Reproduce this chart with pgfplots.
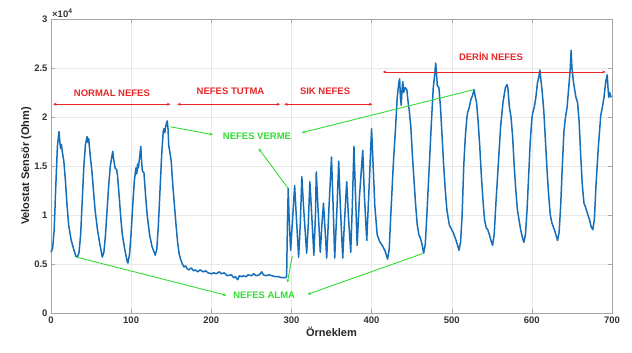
\documentclass[border=0pt]{standalone}
\usepackage{pgfplots}
\pgfplotsset{compat=1.18}
\usepackage{fontspec}
\setmainfont{Liberation Sans}
\usetikzlibrary{arrows.meta}
\definecolor{mblue}{RGB}{20,110,185}
\definecolor{ared}{RGB}{230,40,40}
\definecolor{agreen}{RGB}{50,220,50}
\begin{document}
\begin{tikzpicture}
\useasboundingbox (-51pt,-40pt) rectangle (581pt,313pt);
\begin{axis}[
  at={(0,0)}, anchor=south west,
  scale only axis, width=561pt, height=294pt,
  xmin=0, xmax=700, ymin=0, ymax=3,
  xtick={0,100,...,700}, ytick={0,0.5,...,3},
  yticklabels={0,0.5,1,1.5,2,2.5,3},
  scaled y ticks=false,
  tick align=inside,
  grid=major,
  grid style={gray!18},
  axis line style={gray!70},
  major tick style={gray!70},
  tick label style={font=\bfseries\fontsize{9.5}{10}\selectfont, text=black!80},
  /pgf/number format/assume math mode=true,
  xlabel={\bfseries Örneklem},
  ylabel={\bfseries Velostat Sensör (Ohm)},
  label style={font=\bfseries\fontsize{11}{12}\selectfont, text=black!85},
  xlabel style={yshift=3pt},
  ylabel style={yshift=-4pt},
  clip=false,
]
\addplot[mblue, line width=1.5pt, line join=round] coordinates {
(0,0.62)(2,0.66)(4,0.85)(6,1.3)(8,1.7)(10,1.85)(11,1.75)(12,1.68)(13,1.72)(14,1.65)
(16,1.55)(18,1.35)(20,1.1)(22,0.9)(25,0.75)(28,0.66)(31,0.58)(33,0.57)(35,0.62)(37,0.8)
(39,1.15)(41,1.5)(43,1.72)(45,1.80)(46,1.74)(47,1.78)(49,1.6)(51,1.45)(53,1.25)(55,1.05)
(58,0.85)(61,0.7)(64,0.57)(66,0.62)(68,0.8)(70,1.05)(72,1.3)(74,1.5)(76,1.6)(77,1.65)
(78,1.58)(80,1.48)(82,1.46)(83,1.4)(85,1.2)(87,0.98)(89,0.8)(92,0.65)(95,0.53)(96,0.51)
(98,0.6)(100,0.82)(102,1.1)(104,1.35)(106,1.48)(107,1.42)(108,1.52)(109,1.48)(111,1.62)(112,1.70)
(113,1.55)(114,1.45)(116,1.43)(118,1.2)(120,1.0)(123,0.8)(126,0.68)(130,0.59)(132,0.65)(134,0.9)
(136,1.25)(138,1.6)(140,1.85)(141,1.88)(142,1.84)(143,1.9)(145,1.96)(146,1.88)(147,1.7)(148,1.66)
(150,1.55)(152,1.3)(154,1.1)(156,0.9)(158,0.72)(160,0.6)(162,0.54)(164,0.5)(166,0.47)(168,0.48)
(170,0.45)(172,0.44)(175,0.46)(178,0.43)(180,0.44)(183,0.42)(186,0.44)(190,0.42)(193,0.43)(196,0.41)
(200,0.40)(203,0.41)(206,0.40)(210,0.42)(213,0.40)(216,0.41)(220,0.38)(225,0.39)(228,0.36)(230,0.37)
(233,0.34)(235,0.38)(238,0.37)(240,0.38)(243,0.37)(246,0.39)(250,0.38)(253,0.40)(256,0.38)(260,0.39)
(263,0.42)(265,0.39)(268,0.38)(272,0.39)(276,0.38)(280,0.37)(284,0.37)(288,0.36)(292,0.36)(294,0.37)
(295,0.9)(296,1.27)(297,1.0)(299,0.64)(301,0.9)(304,1.30)(306,1.0)(309,0.57)(311,0.9)(313,1.39)
(315,1.1)(319,0.61)(321,0.9)(323,1.34)(325,1.05)(328,0.59)(330,1.0)(331,1.44)(333,1.1)(336,0.62)
(338,0.9)(340,1.12)(342,0.85)(344,0.56)(347,1.1)(350,1.59)(352,1.1)(354,0.56)(357,1.1)(359,1.55)
(361,1.1)(364,0.56)(366,0.9)(369,1.34)(371,1.0)(374,0.62)(376,1.1)(378,1.70)(380,1.2)(382,0.69)
(385,1.2)(389,1.66)(391,1.2)(394,0.74)(397,1.3)(400,1.88)(402,1.5)(404,1.1)(407,0.8)(410,0.73)
(414,0.68)(417,0.63)(420,0.55)(422,0.65)(424,1.0)(427,1.5)(430,1.9)(432,2.2)(434,2.35)(435,2.39)
(436,2.2)(437,2.12)(438,2.28)(439,2.36)(440,2.25)(442,2.3)(444,2.28)(446,2.12)(447,2.07)(449,1.9)
(451,1.6)(453,1.35)(455,1.1)(457,0.9)(459,0.8)(461,0.76)(463,0.7)(465,0.61)(467,0.7)(469,1.0)
(472,1.5)(475,2.0)(477,2.3)(479,2.45)(480,2.55)(481,2.45)(482,2.32)(484,2.3)(486,2.1)(488,1.8)
(490,1.5)(492,1.25)(494,1.05)(497,0.9)(500,0.85)(502,0.82)(505,0.75)(507,0.7)(509,0.64)(511,0.72)
(513,1.0)(515,1.5)(517,1.8)(519,2.0)(520,2.05)(522,2.1)(524,2.18)(526,2.22)(528,2.28)(529,2.22)
(531,2.15)(533,1.95)(535,1.7)(537,1.4)(539,1.15)(541,0.95)(543,0.87)(545,0.85)(547,0.8)(549,0.74)
(551,0.69)(553,0.8)(555,1.1)(558,1.5)(561,1.9)(564,2.15)(567,2.3)(569,2.33)(570,2.3)(572,2.1)
(574,2.0)(576,1.8)(578,1.5)(580,1.25)(582,1.05)(584,0.95)(586,0.85)(588,0.78)(590,0.72)(592,0.8)
(594,1.05)(596,1.4)(598,1.75)(600,1.98)(601,2.04)(603,2.1)(605,2.2)(607,2.35)(609,2.42)(610,2.48)
(611,2.4)(613,2.25)(615,2.05)(617,1.75)(619,1.45)(621,1.2)(623,1.0)(625,0.92)(628,0.85)(630,0.8)
(632,0.74)(634,0.82)(636,1.1)(638,1.5)(640,1.85)(642,2.0)(644,2.1)(646,2.3)(648,2.5)(649,2.68)
(650,2.5)(652,2.35)(655,2.2)(657,2.15)(659,1.95)(661,1.6)(663,1.3)(665,1.12)(667,1.08)(670,1.0)
(672,0.95)(674,0.88)(676,0.85)(678,0.95)(680,1.3)(683,1.7)(686,2.02)(688,2.1)(690,2.2)(692,2.35)
(694,2.43)(695,2.3)(696,2.2)(697,2.25)(699,2.2)
};
% multiplier
\node[anchor=south west, font=\bfseries\fontsize{9.5}{10}\selectfont, text=black!80, inner sep=1pt] at (rel axis cs:0,1) {×10\textsuperscript{4}};
% red range arrows
\begin{scope}[ared, line width=0.8pt, {Stealth[length=3.5pt,width=3pt]}-{Stealth[length=3.5pt,width=3pt]}]
\draw (axis cs:2.5,2.13) -- (axis cs:149,2.13);
\draw (axis cs:157.5,2.13) -- (axis cs:286,2.13);
\draw (axis cs:291,2.13) -- (axis cs:401,2.13);
\draw (axis cs:414,2.46) -- (axis cs:692,2.46);
\end{scope}
\begin{scope}[font=\bfseries\fontsize{9.5}{10}\selectfont, text=ared]
\node at (axis cs:76,2.245) {NORMAL NEFES};
\node at (axis cs:224,2.26) {NEFES TUTMA};
\node at (axis cs:342,2.26) {SIK NEFES};
\node at (axis cs:549,2.62) {DERİN NEFES};
\end{scope}
% green annotations
\begin{scope}[agreen, line width=0.9pt, -{Stealth[length=3.5pt,width=3pt]}]
\draw (axis cs:149,1.90) -- (axis cs:202,1.82);
\draw (axis cs:296,1.27) -- (axis cs:259,1.68);
\draw (axis cs:528,2.28) -- (axis cs:313,1.84);
\draw (axis cs:32,0.57) -- (axis cs:219,0.18);
\draw (axis cs:301,0.58) -- (axis cs:295,0.31);
\draw (axis cs:465,0.61) -- (axis cs:320,0.19);
\end{scope}
\begin{scope}[font=\bfseries\fontsize{9.5}{10}\selectfont, text=agreen]
\node at (axis cs:257,1.80) {NEFES VERME};
\node at (axis cs:266,0.18) {NEFES ALMA};
\end{scope}
\end{axis}
\end{tikzpicture}
\end{document}
